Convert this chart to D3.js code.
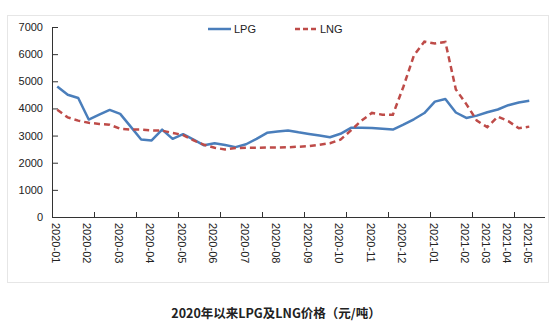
<!DOCTYPE html>
<html><head><meta charset="utf-8">
<script src="https://cdn.jsdelivr.net/npm/d3@7"></script>
<style>body{margin:0;background:#fff;}svg{display:block;}</style>
</head><body><div id="chart"></div>
<script>
// Period tick labels (one entry per data point; blank = unlabeled period)
const periodLabels = [
 "2020-01","","","2020-02","","","2020-03","","","2020-04","","","2020-05","","",
 "2020-06","","","2020-07","","","2020-08","","","2020-09","","","2020-10","","",
 "2020-11","","","2020-12","","","2021-01","","","2021-02","","2021-03","","2021-04","","2021-05"
];
const lpgValues = [4810,4505,4385,3590,3770,3945,3800,3330,2855,2820,3220,2880,3050,2850,2640,
 2720,2650,2575,2680,2880,3100,3150,3190,3120,3060,3000,2940,3065,3285,3290,3280,3250,3220,
 3400,3600,3830,4250,4350,3850,3650,3735,3860,3960,4120,4220,4280];
const lngValues = [3950,3670,3550,3470,3430,3400,3250,3220,3220,3190,3180,3100,3020,2820,2660,
 2550,2490,2540,2550,2550,2560,2560,2570,2590,2610,2660,2720,2850,3190,3550,3835,3770,3770,
 4800,5950,6460,6390,6450,4700,4160,3550,3310,3700,3530,3270,3330];
const yTicks = [0,1000,2000,3000,4000,5000,6000,7000];
const seriesNames = ["LPG","LNG"];
const titleText = "2020年以来LPG及LNG价格（元/吨）";

const W=552,H=331;
const svg=d3.select("#chart").append("svg").attr("width",W).attr("height",H);
svg.append("rect").attr("x",7.5).attr("y",15.5).attr("width",541).attr("height",267)
  .attr("fill","#fff").attr("stroke","#e6e6e6");

const nSlots = periodLabels.length + 1;
const x=d3.scaleBand().domain(d3.range(nSlots)).range([52,545]).padding(0);
const y=d3.scaleLinear().domain([0,7000]).range([217,27]);
const cx=i=>x(i)+x.bandwidth()/2;
const axisColor="#333";
const font="'Liberation Sans', Arial, sans-serif";

// y axis
const yAxis=d3.axisLeft(y).tickValues(yTicks).tickSize(-6).tickPadding(15).tickFormat(d3.format("d"));
const gy=svg.append("g").attr("transform","translate(52,0)").call(yAxis);
gy.select(".domain").attr("stroke",axisColor).attr("d","M0.5,27V217.5");
gy.selectAll(".tick line").attr("stroke",axisColor).attr("x1",0.5);
gy.selectAll(".tick text").attr("font-family",font).attr("font-size",11).attr("fill","#222").attr("x",-9);

// x axis
const tickIdx=d3.range(0,nSlots,4);
const gx=svg.append("g");
gx.append("line").attr("x1",52).attr("x2",545).attr("y1",217.5).attr("y2",217.5).attr("stroke",axisColor);
gx.selectAll(".xt").data(tickIdx).join("line").attr("class","xt")
  .attr("x1",d=>Math.round(x(d))+0.5).attr("x2",d=>Math.round(x(d))+0.5)
  .attr("y1",217).attr("y2",212).attr("stroke",axisColor);
gx.selectAll(".xl").data(periodLabels.map((l,i)=>({l,i})).filter(d=>d.l)).join("text").attr("class","xl")
  .attr("transform",d=>`translate(${cx(d.i)-1.5},223) rotate(90)`)
  .attr("dy","0.35em").attr("text-anchor","start")
  .attr("font-family",font).attr("font-size",11).attr("fill","#222").text(d=>d.l);

// lines
const line=d3.line().x((d,i)=>cx(i)).y(d=>y(d));
svg.append("path").datum(lpgValues).attr("d",line).attr("fill","none")
  .attr("stroke","#4a7ebb").attr("stroke-width",2.5).attr("stroke-linejoin","round");
svg.append("path").datum(lngValues).attr("d",line).attr("fill","none")
  .attr("stroke","#be4b48").attr("stroke-width",2.5).attr("stroke-dasharray","6,4");

// legend
const lg=svg.append("g");
lg.append("line").attr("x1",208).attr("x2",231).attr("y1",29).attr("y2",29).attr("stroke","#4a7ebb").attr("stroke-width",2.5);
lg.append("text").attr("x",234).attr("y",29).attr("dy","0.35em").attr("font-family",font).attr("font-size",11).attr("fill","#222").text(seriesNames[0]);
lg.append("line").attr("x1",295).attr("x2",316).attr("y1",29).attr("y2",29).attr("stroke","#be4b48").attr("stroke-width",2.5).attr("stroke-dasharray","5,3");
lg.append("text").attr("x",320).attr("y",29).attr("dy","0.35em").attr("font-family",font).attr("font-size",11).attr("fill","#222").text(seriesNames[1]);

// title
svg.append("text").attr("x",276).attr("y",314).attr("dy","0.35em").attr("text-anchor","middle")
  .attr("font-family","'Noto Sans CJK SC', sans-serif").attr("font-weight","bold").attr("font-size",12.5)
  .attr("fill","#222").text(titleText);
</script></body></html>
